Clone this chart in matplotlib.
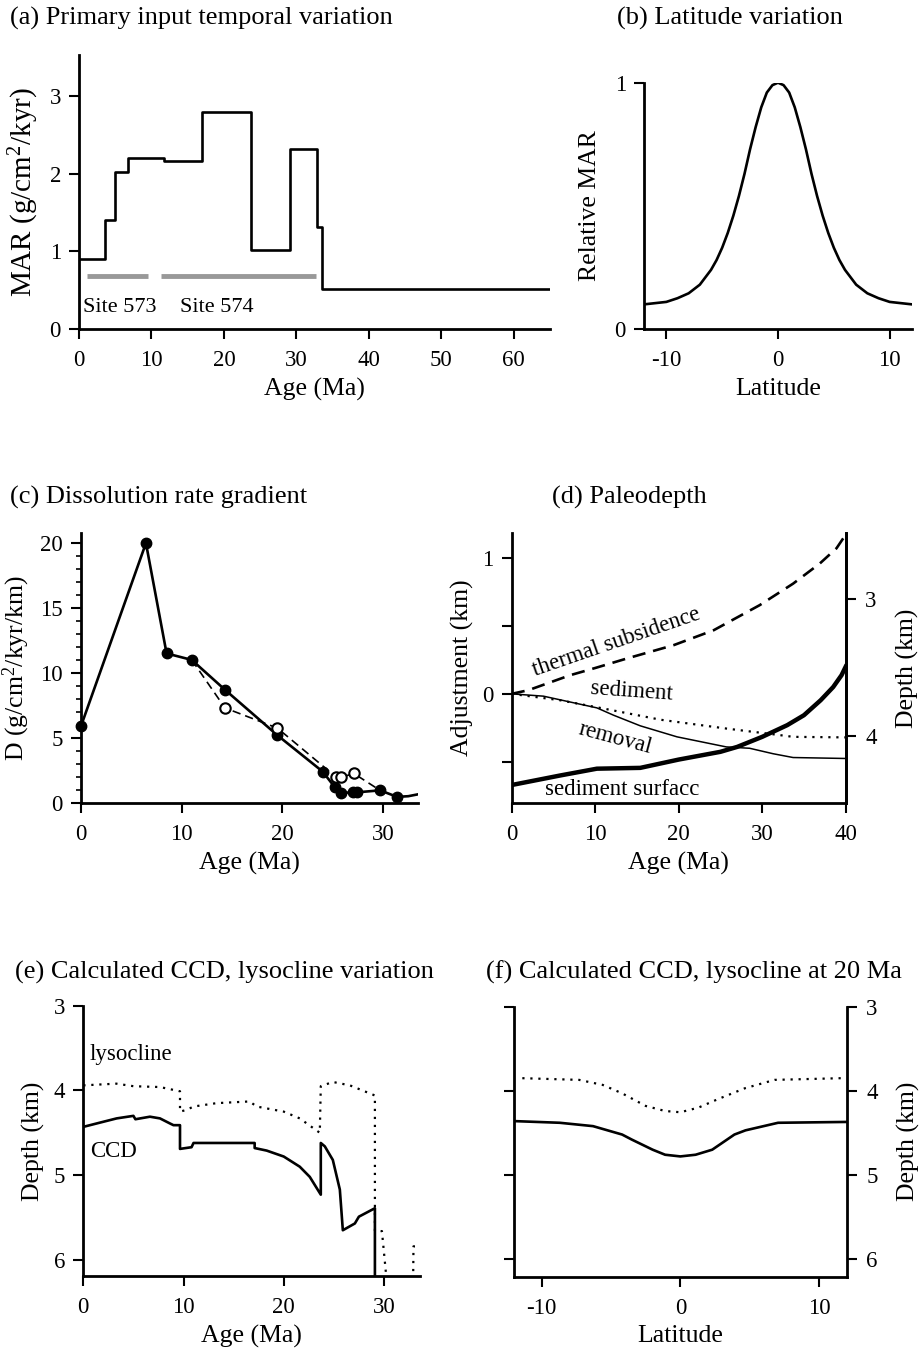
import numpy as np
import matplotlib.pyplot as plt

plt.rcParams['font.family'] = ['Liberation Serif', 'DejaVu Serif']
plt.rcParams['mathtext.default'] = 'regular'
plt.rcParams['axes.unicode_minus'] = False

W, H = 919, 1352

# (a) primary input MAR, step function (start age of each interval)
mar_age = [0, 3.6, 5.0, 6.8, 11.7, 17.0, 23.8, 29.1, 32.9, 33.5, 65]
mar_val = [0.90, 1.41, 2.02, 2.20, 2.17, 2.79, 1.02, 2.32, 1.32, 0.52, 0.52]
site573 = [1.1, 9.5]
site574 = [11.3, 32.7]
site_y = 0.68

# (b) relative MAR vs latitude
lat_b = [-12, -11, -10, -9, -8, -7, -6, -5.5, -5, -4.5, -4, -3.5, -3, -2.5, -2, -1.5, -1, -0.5, 0,
         0.5, 1, 1.5, 2, 2.5, 3, 3.5, 4, 4.5, 5, 5.5, 6, 7, 8, 9, 10, 11, 12]
rel_mar = [0.10, 0.105, 0.11, 0.125, 0.145, 0.18, 0.24, 0.28, 0.33, 0.39, 0.46, 0.54, 0.63, 0.73, 0.82,
           0.90, 0.96, 0.99, 1.0,
           0.99, 0.96, 0.90, 0.82, 0.73, 0.63, 0.54, 0.46, 0.39, 0.33, 0.28, 0.24, 0.18, 0.145, 0.125,
           0.11, 0.105, 0.10]

# (c) dissolution rate gradient
d_age_fill = [0, 6.45, 8.5, 11.0, 14.3, 19.5, 24.0, 25.2, 25.8, 27.0, 27.4, 29.7, 31.4]
d_val_fill = [5.9, 20.0, 11.5, 11.0, 8.7, 5.2, 2.4, 1.2, 0.75, 0.8, 0.8, 0.95, 0.45]
d_tail_age = [31.4, 32.5, 33.5]
d_tail_val = [0.45, 0.5, 0.65]
d_age_open = [14.3, 19.5, 25.3, 25.8, 27.1]
d_val_open = [7.3, 5.75, 2.0, 1.95, 2.25]
d_dash_age = [11.0, 14.3, 19.5, 25.3, 25.8, 27.1, 29.7]
d_dash_val = [11.0, 7.3, 5.75, 2.0, 1.95, 2.25, 0.95]

# (d) paleodepth adjustments (km)
thermal_age = [0, 2, 7, 10, 13.8, 19.4, 24.2, 29.7, 33.7, 36.9, 38.9, 40]
thermal_adj = [0, 0.027, 0.137, 0.19, 0.26, 0.358, 0.468, 0.652, 0.81, 0.958, 1.07, 1.17]
sed_age = [0, 5.8, 11, 17.8, 25.7, 31.7, 33.7, 40]
sed_adj = [0, -0.047, -0.108, -0.19, -0.255, -0.30, -0.316, -0.32]
rem_age = [0, 3.8, 10.2, 12.2, 15.4, 19.8, 25.7, 28.5, 31.3, 33.7, 40]
rem_adj = [0, -0.017, -0.103, -0.157, -0.235, -0.316, -0.39, -0.40, -0.44, -0.468, -0.475]
surf_age = [0, 5.8, 10.2, 15.4, 20, 25, 27, 30, 33, 35, 37, 38.5, 39.5, 40]
surf_adj = [-0.67, -0.60, -0.55, -0.544, -0.483, -0.426, -0.39, -0.316, -0.23, -0.157, -0.047, 0.05, 0.137, 0.2]

# (e) CCD and lysocline vs age
ccd_age = [0, 1.66, 3.33, 5.0, 5.2, 6.65, 7.65, 8.65, 9.0, 9.65, 9.65, 10.8, 11.0, 17.1, 17.1,
           18.3, 20.0, 21.6, 22.6, 23.7, 23.7, 24.1, 24.9, 25.6, 25.9, 27.1, 27.5, 29.1, 29.1]
ccd_dep = [4.43, 4.38, 4.33, 4.30, 4.34, 4.31, 4.33, 4.39, 4.41, 4.41, 4.69, 4.67, 4.62, 4.62, 4.68,
           4.71, 4.78, 4.90, 5.02, 5.23, 4.62, 4.66, 4.82, 5.17, 5.65, 5.57, 5.49, 5.39, 6.4]
lys_age = [0, 3.3, 5.0, 7.65, 9.65, 9.65, 10.3, 11.0, 13.3, 16.6, 17.3, 20.0, 21.6, 23.6, 23.7,
           24.9, 26.6, 28.9, 29.1, 29.1, 29.8, 30.4, 32.9, 32.95, 33.5]
lys_dep = [3.94, 3.92, 3.95, 3.96, 4.01, 4.25, 4.23, 4.19, 4.15, 4.13, 4.19, 4.25, 4.33, 4.50, 3.95,
           3.90, 3.94, 4.05, 4.06, 5.66, 5.66, 6.4, 6.4, 5.84, 5.84]

# (f) CCD and lysocline vs latitude at 20 Ma
lat_f_ccd = [-12, -8.7, -6.3, -4.2, -3.5, -2.0, -1.1, 0, 1.1, 2.3, 3.9, 4.7, 7.05, 12]
ccd_f = [4.36, 4.38, 4.42, 4.52, 4.58, 4.70, 4.76, 4.78, 4.76, 4.70, 4.52, 4.47, 4.38, 4.37]
lat_f_lys = [-11.4, -7.3, -5.6, -4.2, -2.5, -1.1, 0, 1.3, 2.7, 4.65, 6.8, 11.6]
lys_f = [3.85, 3.87, 3.93, 4.03, 4.18, 4.24, 4.255, 4.20, 4.10, 3.97, 3.87, 3.85]

TICK = 16.5
LAB = 18.5
TIT = 19
DOT = (0, (1, 2.6))

fig = plt.figure(figsize=(W / 100, H / 100), dpi=100)


def add_ax(l, r, b, t):
    return fig.add_axes([l / W, 1 - b / H, (r - l) / W, (b - t) / H])


def style(ax, right=False):
    for s in ['top', 'right']:
        ax.spines[s].set_visible(False)
    if right:
        ax.spines['right'].set_visible(True)
    for s in ax.spines.values():
        s.set_linewidth(2.0)
    ax.tick_params(direction='out', length=7, width=1.5, labelsize=TICK)
    ax.tick_params(axis='x', pad=8)
    ax.tick_params(axis='y', pad=6)


def title(x, y, s):
    fig.text(x / W, 1 - y / H, s, fontsize=TIT, ha='left', va='center')


# ---- (a)
ax = add_ax(79, 550, 329, 55)
style(ax)
ax.step(mar_age, mar_val, where='post', color='k', lw=1.9)
ax.plot(site573, [site_y, site_y], color='0.6', lw=3.5, solid_capstyle='butt')
ax.plot(site574, [site_y, site_y], color='0.6', lw=3.5, solid_capstyle='butt')
ax.text(0.6, 0.28, 'Site 573', fontsize=16, va='center')
ax.text(13.9, 0.28, 'Site 574', fontsize=16, va='center')
ax.set_xlim(0, 65)
ax.set_ylim(0, 3.53)
ax.set_xticks([0, 10, 20, 30, 40, 50, 60])
ax.set_yticks([0, 1, 2, 3])
ax.set_xlabel('Age (Ma)', fontsize=LAB, labelpad=5)
ax.set_ylabel('MAR (g/cm$^2$/kyr)', fontsize=21, labelpad=6)
title(10, 18, '(a) Primary input temporal variation')

# ---- (b)
ax = add_ax(644, 912, 329, 82.7)
style(ax)
ax.plot(lat_b, rel_mar, color='k', lw=1.9)
ax.set_xlim(-12, 12)
ax.set_ylim(0, 1)
ax.set_xticks([-10, 0, 10])
ax.set_yticks([0, 1])
ax.set_xlabel('Latitude', fontsize=LAB, labelpad=5)
ax.set_ylabel('Relative MAR', fontsize=LAB, labelpad=10)
title(617, 18, '(b) Latitude variation')

# ---- (c)
ax = add_ax(81, 418.3, 802.7, 532.7)
style(ax)
ax.plot(d_dash_age, d_dash_val, color='k', lw=1.2, ls=(0, (5, 3)))
ax.plot(d_age_fill, d_val_fill, color='k', lw=1.9, marker='o', ms=7.5, mfc='k', mec='k', clip_on=False)
ax.plot(d_tail_age, d_tail_val, color='k', lw=1.9)
ax.plot(d_age_open, d_val_open, ls='none', marker='o', ms=7.5, mfc='white', mec='k', mew=1.5)
ax.set_xlim(0, 33.5)
ax.set_ylim(0, 20.8)
ax.set_xticks([0, 10, 20, 30])
ax.set_yticks([0, 5, 10, 15, 20])
ax.set_yticks(np.arange(0, 21, 1), minor=True)
ax.tick_params(axis='y', which='minor', length=3.5, width=1.2)
ax.set_xlabel('Age (Ma)', fontsize=LAB, labelpad=5)
ax.set_ylabel('D (g/cm$^2$/kyr/km)', fontsize=LAB, labelpad=6)
title(10, 497, '(c) Dissolution rate gradient')

# ---- (d)
ax = add_ax(511.7, 845.7, 802.7, 533.3)
style(ax, right=True)
ax.plot(thermal_age, thermal_adj, color='k', lw=1.9, ls=(0, (5, 3)))
ax.plot(sed_age, sed_adj, color='k', lw=1.6, ls=DOT)
ax.plot(rem_age, rem_adj, color='k', lw=1.1)
ax.plot(surf_age, surf_adj, color='k', lw=3.2)
ax.text(12.6, 0.38, 'thermal subsidence', fontsize=16.5, rotation=19, ha='center', va='center')
ax.text(14.4, 0.015, 'sediment', fontsize=16.5, rotation=-4, ha='center', va='center')
ax.text(12.4, -0.33, 'removal', fontsize=16.5, rotation=-15, ha='center', va='center')
ax.text(13.2, -0.70, 'sediment surfacc', fontsize=16.5, ha='center', va='center')
ax.set_xlim(0, 40)
ax.set_ylim(-0.8, 1.18)
ax.set_xticks([0, 10, 20, 30, 40])
ax.set_yticks([-0.5, 0, 0.5, 1])
ax.set_yticklabels(['', '0', '', '1'])
ax.set_xlabel('Age (Ma)', fontsize=LAB, labelpad=5)
ax.set_ylabel('Adjustment (km)', fontsize=LAB, labelpad=6)
ax2 = ax.twinx()
for s in ['top', 'left', 'bottom']:
    ax2.spines[s].set_visible(False)
ax2.spines['right'].set_linewidth(2.0)
ax2.set_ylim(4.486, 2.52)
ax2.set_yticks([3, 4])
ax2.tick_params(direction='out', length=7, width=1.5, labelsize=TICK, pad=7)
ax2.set_ylabel('Depth (km)', fontsize=LAB, labelpad=14)
title(552, 497, '(d) Paleodepth')

# ---- (e)
ax = add_ax(83.3, 420, 1276, 1005.7)
style(ax)
ax.plot(ccd_age, ccd_dep, color='k', lw=1.9)
ax.plot(lys_age, lys_dep, color='k', lw=1.6, ls=DOT)
ax.text(0.67, 3.58, 'lysocline', fontsize=16.5, va='center')
ax.text(0.67, 4.72, 'CCD', fontsize=16.5, va='center')
ax.set_xlim(0, 33.6)
ax.set_ylim(6.19, 3.0)
ax.set_xticks([0, 10, 20, 30])
ax.set_yticks([3, 4, 5, 6])
ax.set_xlabel('Age (Ma)', fontsize=LAB, labelpad=5)
ax.set_ylabel('Depth (km)', fontsize=LAB, labelpad=6)
title(15, 972, '(e) Calculated CCD, lysocline variation')

# ---- (f)
ax = add_ax(514, 846.7, 1276.7, 1006.7)
style(ax, right=True)
ax.plot(lat_f_ccd, ccd_f, color='k', lw=1.9)
ax.plot(lat_f_lys, lys_f, color='k', lw=1.6, ls=DOT)
ax.set_xlim(-12, 12)
ax.set_ylim(6.21, 3.0)
ax.set_xticks([-10, 0, 10])
ax.set_yticks([3, 4, 5, 6])
ax.tick_params(axis='y', left=True, right=True, labelleft=False, labelright=True, pad=7)
ax.yaxis.set_label_position('right')
ax.set_xlabel('Latitude', fontsize=LAB, labelpad=5)
ax.set_ylabel('Depth (km)', fontsize=LAB, labelpad=14)
title(486, 972, '(f) Calculated CCD, lysocline at 20 Ma')

fig.savefig('out.png', dpi=100, facecolor='white')
